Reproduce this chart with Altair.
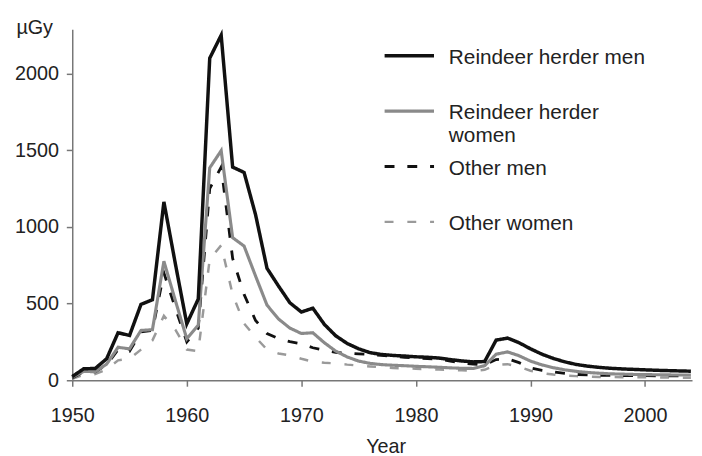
import altair as alt
import pandas as pd

FONT = "Liberation Sans"

years = list(range(1950, 2005))

reindeer_men = [24, 75, 77, 140, 310, 292, 495, 525, 1163, 760,
                368, 530, 2100, 2250, 1390, 1355, 1080, 730, 615, 505,
                445, 470, 365, 290, 240, 205, 180, 168, 162, 158,
                153, 150, 145, 135, 126, 120, 122, 262, 275, 245,
                205, 170, 142, 120, 103, 92, 84, 78, 74, 71,
                68, 65, 63, 61, 59]

reindeer_women = [20, 58, 56, 105, 215, 205, 325, 330, 776, 520,
                  270, 360, 1385, 1497, 930, 875, 680, 490, 400, 340,
                  305, 310, 245, 190, 152, 125, 110, 102, 98, 95,
                  91, 88, 85, 81, 78, 77, 95, 170, 185, 160,
                  125, 100, 82, 68, 58, 51, 46, 42, 40, 38,
                  37, 36, 35, 34, 34]

other_men = [15, 55, 55, 100, 200, 190, 315, 325, 700, 470,
             250, 340, 1250, 1390, 795, 560, 390, 305, 272, 252,
             238, 212, 196, 182, 176, 172, 168, 162, 155, 150,
             146, 142, 138, 125, 112, 105, 100, 135, 140, 115,
             80, 65, 55, 45, 38, 35, 33, 32, 31, 30,
             30, 29, 29, 28, 28]

other_women = [10, 35, 40, 70, 130, 140, 200, 260, 420, 330,
               200, 190, 790, 880, 560, 370, 280, 200, 175, 163,
               140, 122, 114, 110, 102, 96, 90, 85, 80, 78,
               75, 72, 70, 68, 65, 62, 68, 100, 105, 88,
               62, 47, 37, 31, 27, 24, 22, 21, 20, 19,
               19, 18, 18, 17, 17]

series_names = ["Reindeer herder men", "Reindeer herder women", "Other men", "Other women"]
series_colors = ["#111111", "#8a8a8a", "#111111", "#9a9a9a"]
series_dashes = [[1, 0], [1, 0], [10, 13], [9, 14]]
series_widths = [3.5, 2.5, 3.5, 2.5]

x_ticks = [1950, 1960, 1970, 1980, 1990, 2000]
y_ticks = [0, 500, 1000, 1500, 2000]

values_by_series = {
    "Reindeer herder men": reindeer_men,
    "Reindeer herder women": reindeer_women,
    "Other men": other_men,
    "Other women": other_women,
}
draw_order = ["Other women", "Other men", "Reindeer herder women", "Reindeer herder men"]

rows = []
for name in draw_order:
    for yr, v in zip(years, values_by_series[name]):
        rows.append({"year": yr, "dose": v, "series": name})
df = pd.DataFrame(rows)

legend = alt.Legend(
    title=None,
    orient="none",
    legendX=316,
    legendY=7.5,
    padding=0,
    symbolType="M-2.1,1.75L7.9,1.75",
    symbolSize=100,
    labelExpr="datum.label == 'Reindeer herder women' ? ['Reindeer herder', 'women'] : [datum.label, '']",
    labelBaseline="top",
    labelFont=FONT,
    labelFontSize=21,
    labelColor="#222222",
    labelLimit=400,
    labelOffset=44,
    rowPadding=1,
)

chart = alt.Chart(df).mark_line().encode(
    x=alt.X("year:Q",
            scale=alt.Scale(domain=[1950, 2004.1], nice=False, zero=False),
            axis=alt.Axis(values=x_ticks, format="d", grid=False,
                          tickSize=6, tickWidth=1.5, tickColor="#777777",
                          domainColor="#777777", domainWidth=1.5,
                          labelFont=FONT, labelFontSize=20, labelColor="#222222",
                          labelPadding=20, labelFlush=False,
                          title="Year", titleFont=FONT, titleFontSize=20,
                          titleFontWeight="normal", titleColor="#222222",
                          titleX=317, titleY=73, titleAlign="center",
                          titleBaseline="alphabetic")),
    y=alt.Y("dose:Q",
            scale=alt.Scale(domain=[0, 2288], nice=False),
            axis=alt.Axis(values=y_ticks, format="d", grid=False,
                          tickSize=6, tickWidth=1.5, tickColor="#777777",
                          domainColor="#777777", domainWidth=1.5,
                          labelFont=FONT, labelFontSize=20, labelColor="#222222",
                          labelPadding=8,
                          title="µGy", titleFont=FONT, titleFontSize=20,
                          titleFontWeight="normal", titleColor="#222222",
                          titleAngle=0, titleX=-38.5, titleY=4,
                          titleAlign="center", titleBaseline="alphabetic")),
    color=alt.Color("series:N", scale=alt.Scale(domain=series_names, range=series_colors), legend=legend),
    strokeDash=alt.StrokeDash("series:N", scale=alt.Scale(domain=series_names, range=series_dashes), legend=legend),
    strokeWidth=alt.StrokeWidth("series:N", scale=alt.Scale(domain=series_names, range=series_widths), legend=legend),
).properties(
    width=627,
    height=355,
    autosize=alt.AutoSizeParams(type="none"),
    padding={"left": 65, "top": 19, "right": 2, "bottom": 74},
    background="white",
).configure_view(stroke=None)

chart.save("out.html", embed_options={"renderer": "svg", "actions": False})
